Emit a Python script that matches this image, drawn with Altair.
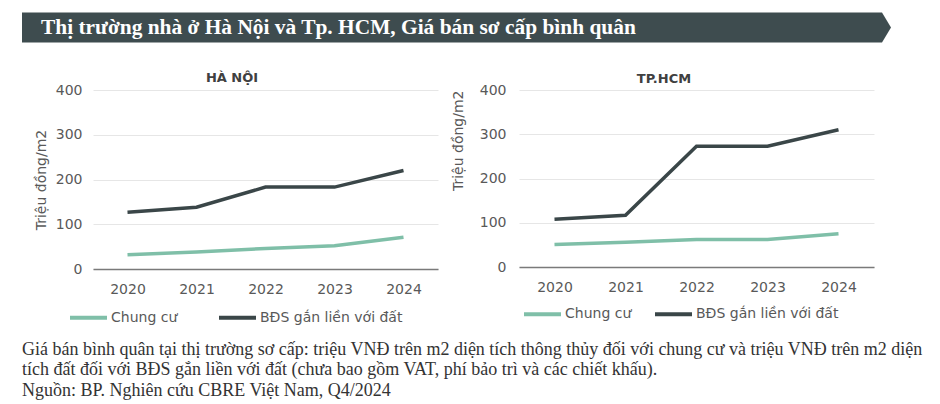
import altair as alt
import pandas as pd

years = ["2020", "2021", "2022", "2023", "2024"]
series = ["Chung cư", "BĐS gắn liền với đất"]
series_colors = ["#7fbfa8", "#3a4648"]

hn_chungcu = [32, 38, 46, 52, 71]
hn_bds = [127, 138, 183, 183, 220]
hcm_chungcu = [51, 56, 62, 62, 75]
hcm_bds = [108, 117, 273, 273, 310]

y_ticks = [0, 100, 200, 300, 400]
y_title = "Triệu đồng/m2"
panel_titles = ["HÀ NỘI", "TP.HCM"]

banner_title = "Thị trường nhà ở Hà Nội và Tp. HCM, Giá bán sơ cấp bình quân"
note_lines = [
    "Giá bán bình quân tại thị trường sơ cấp: triệu VNĐ trên m2 diện tích thông thủy đối với chung cư và triệu VNĐ trên m2 diện",
    "tích đất đối với BĐS gắn liền với đất (chưa bao gồm VAT, phí bảo trì và các chiết khấu).",
    "Nguồn: BP. Nghiên cứu CBRE Việt Nam, Q4/2024",
]

SANS = "DejaVu Sans"
SERIF = "Liberation Serif"
GREY = "#595959"


def make_df(cc, bds):
    rows = []
    for s, vals in zip(series, [cc, bds]):
        for y, v in zip(years, vals):
            rows.append({"year": y, "series": s, "value": v})
    return pd.DataFrame(rows)


def panel(df, title, width, height, ylabel_pad, ytitle_pad, title_anchor,
          legend_x, legend_y, col_pad, title_x, title_y):
    lines = alt.Chart(df).mark_line(strokeWidth=3.5, interpolate="linear").encode(
        x=alt.X("year:O", scale=alt.Scale(type="point", padding=0.5),
                axis=alt.Axis(title=None, labelAngle=0, ticks=False, grid=False,
                              domainColor="#7a7a7a", domainWidth=1.3,
                              labelFont=SANS, labelFontSize=14, labelColor=GREY,
                              labelPadding=13)),
        y=alt.Y("value:Q", scale=alt.Scale(domain=[0, 400], nice=False),
                axis=alt.Axis(values=y_ticks, title=y_title, domain=False, ticks=False,
                              gridColor="#e6e6e6", labelFont=SANS, labelFontSize=14,
                              labelColor=GREY, labelPadding=ylabel_pad,
                              titleFont=SANS, titleFontSize=14, titleFontWeight="normal",
                              titleColor=GREY, titlePadding=ytitle_pad,
                              titleAnchor=title_anchor)),
        color=alt.Color("series:N", sort=series,
                        scale=alt.Scale(domain=series, range=series_colors),
                        legend=alt.Legend(title=None, orient="none", direction="horizontal",
                                          legendX=legend_x, legendY=legend_y,
                                          symbolType="stroke", symbolSize=1369,
                                          symbolStrokeWidth=4, labelFont=SANS,
                                          labelFontSize=14, labelColor=GREY,
                                          labelOffset=2, columnPadding=col_pad)),
    )
    ttl = alt.Chart(pd.DataFrame({"t": [title]})).mark_text(
        font=SANS, fontSize=13, fontWeight="bold", color="#404040",
        align="center", baseline="middle").encode(
        text="t:N", x=alt.value(title_x), y=alt.value(title_y))
    return lines, ttl


left_lines, left_title = panel(make_df(hn_chungcu, hn_bds), panel_titles[0], 345, 179,
                               11, 7, "middle", -25, 207, 33, 139, -12)
right_lines, right_title = panel(make_df(hcm_chungcu, hcm_bds), panel_titles[1], 355, 177,
                                 13, 14, "end", 3, 203.5, 15, 145, -11)

one = pd.DataFrame({"t": [banner_title]})
banner_rect = alt.Chart(one).mark_rect(color="#3e4c4f").encode(
    x=alt.value(-71), x2=alt.value(789), y=alt.value(-77.5), y2=alt.value(-47.5))
banner_tip = alt.Chart(one).mark_point(
    shape="M0,-1L0.6,0L0,1Z", filled=True, size=900, color="#3e4c4f", opacity=1,
    strokeWidth=0).encode(x=alt.value(789), y=alt.value(-62.5))
banner_text = alt.Chart(one).mark_text(
    font=SERIF, fontSize=21.4, fontWeight="bold", color="white", align="left",
    baseline="middle").encode(text="t:N", x=alt.value(-52), y=alt.value(-62))

note = alt.Chart(one).mark_text(
    font=SERIF, fontSize=18, color="#333333", align="left", baseline="middle",
    lineHeight=20.5).encode(text=alt.value(note_lines), x=alt.value(-71),
                            y=alt.value(259.5))

left = alt.layer(banner_rect, banner_tip, banner_text, note, left_title, left_lines
                 ).properties(width=345, height=179)
right = alt.layer(right_title, right_lines).properties(width=355, height=177)

chart = alt.hconcat(left, right, spacing=81, bounds="flush").resolve_legend(
    color="independent"
).properties(
    padding={"left": 22, "top": 12, "right": 0, "bottom": 0},
    background="white",
).configure_view(stroke=None)

chart.save("out.html", embed_options={"renderer": "svg", "actions": False})
